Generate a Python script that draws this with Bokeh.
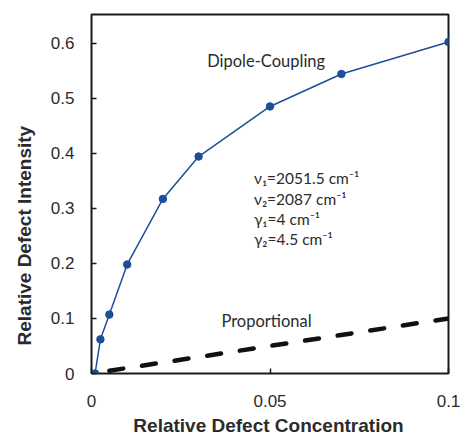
import math
from bokeh.plotting import figure
from bokeh.models import Label, FixedTicker, Range1d, ColumnDataSource, Title
from bokeh.embed import file_html
from bokeh.resources import INLINE

# ---- data ----
concentration = [0.001, 0.0025, 0.005, 0.01, 0.02, 0.03, 0.05, 0.07, 0.1]
dipole_intensity = [0.0, 0.062, 0.107, 0.198, 0.317, 0.394, 0.485, 0.544, 0.602]
proportional_x = [0.005, 0.1]
proportional_y = [0.005, 0.1]

x_ticks = [0, 0.05, 0.1]
x_tick_labels = ["0", "0.05", "0.1"]
y_ticks = [0, 0.1, 0.2, 0.3, 0.4, 0.5, 0.6]
y_tick_labels = ["0", "0.1", "0.2", "0.3", "0.4", "0.5", "0.6"]

x_title = "Relative Defect Concentration"
y_title = "Relative Defect Intensity"
dipole_label = "Dipole-Coupling"
prop_label = "Proportional"
param_lines = ["ν₁=2051.5 cm⁻¹", "ν₂=2087 cm⁻¹", "γ₁=4 cm⁻¹", "γ₂=4.5 cm⁻¹"]

BLUE = "#1f4e98"
TXT = "#2b2b2b"

p = figure(width=461, height=435, output_backend="svg", toolbar_location=None,
           x_range=Range1d(0, 0.1), y_range=Range1d(0, 0.652),
           min_border_left=91, min_border_right=13, min_border_top=14,
           min_border_bottom=62, background_fill_color="white",
           border_fill_color="white")
p.outline_line_color = "#1a1a1a"
p.outline_line_width = 2
p.grid.visible = False

for ax, ticks, labels in ((p.xaxis[0], x_ticks, x_tick_labels),
                          (p.yaxis[0], y_ticks, y_tick_labels)):
    ax.ticker = FixedTicker(ticks=ticks)
    ax.major_label_overrides = dict(zip(ticks, labels))
    ax.axis_line_color = None
    ax.major_tick_in = 5
    ax.major_tick_out = 0
    ax.major_tick_line_color = "#1a1a1a"
    ax.major_tick_line_width = 1.5
    ax.minor_tick_line_color = None
    ax.major_label_text_font = "Liberation Sans"
    ax.major_label_text_font_size = "17px"
    ax.major_label_text_color = TXT
p.xaxis.major_label_standoff = 21
p.yaxis.major_label_standoff = 17

p.add_layout(Label(x=177, y=-5, x_units="screen", y_units="screen",
                   text=x_title, text_align="center", text_font="Liberation Sans",
                   text_font_style="bold", text_font_size="19px", text_color=TXT),
             "below")

p.add_layout(Title(text=y_title, align="left", offset=28, vertical_align="middle",
                   text_font="Liberation Sans", text_font_style="bold",
                   text_font_size="19px", text_color=TXT, standoff=24), "left")

src = ColumnDataSource(dict(x=concentration, y=dipole_intensity))
p.line("x", "y", source=src, line_color=BLUE, line_width=1.5)
p.scatter("x", "y", source=src, size=7.5, fill_color=BLUE, line_color=BLUE)

p.line(proportional_x, proportional_y, line_color="#111111", line_width=4.5,
       line_dash="14 19", line_cap="round")

p.add_layout(Label(x=0.0324, y=0.549, text=dipole_label, text_font="Lato",
                   text_font_size="16.5px", text_color=TXT))
p.add_layout(Label(x=0.0364, y=0.0768, text=prop_label, text_font="Lato",
                   text_font_size="16.5px", text_color=TXT))
for i, t in enumerate(param_lines):
    p.add_layout(Label(x=0.0455, y=0.3379 - i * 0.0367, text=t, text_font="Lato",
                       text_font_size="15.5px", text_color=TXT))

open("out.html", "w").write(file_html(p, INLINE))
